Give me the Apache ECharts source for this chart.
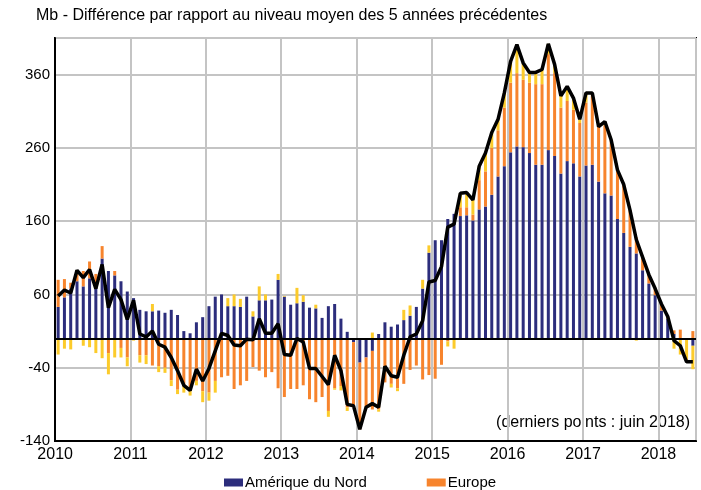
<!DOCTYPE html>
<html>
<head>
<meta charset="UTF-8">
<title>Stocks - ecart a la moyenne 5 ans</title>
<script src="https://cdn.jsdelivr.net/npm/echarts@6/dist/echarts.min.js"></script>
</head>
<body style="margin:0;background:#fff">
<div id="chart" style="width:701px;height:490px;"></div>
<script>
// monthly data, jan 2010 -> juin 2018 (Mb)
var years = ['2010', '2011', '2012', '2013', '2014', '2015', '2016', '2017', '2018'];

var ameriqueNord = [
  43, 56, 68, 78, 71, 82, 75, 109, 92, 86, 78, 64,
  55, 39, 37, 37, 38, 35, 39, 32, 10, 7, 22, 29,
  44, 57, 60, 44, 44, 43, 57, 30, 52, 52, 53, 80,
  57, 46, 48, 50, 42, 41, 28, 44, 47, 27, 9, -5,
  -33, -26, -17, 6, 22, 16, 19, 25, 31, 43, 68, 117,
  134, 134, 163, 170, 167, 168, 161, 176, 180, 196, 221, 235,
  254, 262, 261, 253, 237, 237, 257, 249, 225, 242, 239, 221,
  236, 237, 214, 198, 195, 163, 144, 125, 116, 93, 75, 59,
  38, 27, 6, -1, 0, -10
];
var europe = [
  37, 25, 8, 15, 21, 23, 13, 17, -20, 6, -13, -26,
  0, -23, -23, -37, -38, -40, -57, -70, -66, -72, -58, -72,
  -74, -58, -53, -51, -69, -64, -58, -39, -44, -53, -46, -68,
  -80, -69, -69, -64, -83, -87, -80, -99, -68, -65, -94, -87,
  -91, -68, -80, -97, -60, -62, -68, -62, -43, -37, -56, -50,
  -55, -36, -4, 0, 12, 11, 8, 40, 48, 64, 63, 80,
  95, 100, 92, 96, 110, 110, 131, 113, 90, 82, 73, 73,
  86, 98, 75, 93, 76, 67, 66, 50, 22, 18, 12, 9,
  9, 3, 5, 12, 0, 10
];
var autres = [
  -22, -14, -15, 0, -10, -12, -20, -27, -29, -26, -13, -12,
  -3, -10, -12, 10, -8, -7, -8, -6, -8, -6, -6, -15,
  -11, -16, 0, 11, 16, 11, 0, 7, 19, 8, 0, 8,
  1, 0, 21, 9, 0, 5, 0, -8, -2, -6, -5, 0,
  0, 0, 8, -3, 0, -5, -4, 14, 14, 0, 12, 10,
  0, 0, -7, -14, 19, 20, 20, 19, 25, 21, 15, 20,
  29, 39, 23, 14, 16, 20, 14, 12, 16, 20, 16, 5,
  13, 0, 0, 5, 0, 0, 0, 0, -3, 0, 0, 0,
  0, 0, -14, -21, -32, -32
];
var total = [
  58, 66, 62, 93, 83, 94, 68, 101, 42, 67, 53, 26,
  52, 6, 2, 10, -8, -12, -26, -44, -64, -71, -42, -58,
  -41, -17, 7, 4, -9, -10, -1, -2, 27, 7, 7, 20,
  -22, -23, 0, -5, -41, -41, -52, -63, -23, -44, -90, -92,
  -124, -94, -89, -94, -38, -51, -53, -23, 2, 6, 24, 77,
  79, 98, 152, 156, 198, 199, 189, 235, 253, 281, 299, 335,
  378, 401, 376, 363, 363, 367, 402, 374, 331, 344, 328, 299,
  335, 335, 289, 296, 271, 230, 210, 175, 135, 111, 87, 68,
  47, 30, -3, -10, -32, -32
];

var months = [];
years.forEach(function (y) {
  for (var m = 1; m <= 12; m++) {
    if (months.length < total.length) months.push(y + '-' + (m < 10 ? '0' + m : m));
  }
});

var font = 'Liberation Sans';
var chart = echarts.init(document.getElementById('chart'));

var option = {
  animation: false,
  textStyle: { fontFamily: font },
  title: {
    text: 'Mb - Différence par rapport au niveau moyen des 5 années précédentes',
    left: 31, top: 3,
    textStyle: { fontSize: 16, fontWeight: 'normal', color: '#000', fontFamily: font }
  },
  graphic: [{
    type: 'text', right: 11, top: 415,
    style: { text: '(derniers points : juin 2018)', font: '16px ' + font, fill: '#000' }
  }],
  legend: {
    data: ['Amérique du Nord', 'Europe'],
    left: 219, top: 470,
    itemWidth: 19, itemHeight: 8, itemGap: 60,
    icon: 'rect',
    textStyle: { fontSize: 15, color: '#000', fontFamily: font, padding: [0, 0, 0, -3] }
  },
  grid: {
    left: 55, right: 5, top: 38, bottom: 49,
    show: true, borderColor: '#000', borderWidth: 2
  },
  xAxis: {
    type: 'category',
    data: months,
    boundaryGap: true,
    axisLine: { onZero: false, lineStyle: { color: '#000', width: 2 } },
    axisTick: { show: false },
    axisLabel: {
      interval: function (i) { return i % 12 === 0; },
      formatter: function (v) { return v.slice(0, 4); },
      color: '#000', fontSize: 16, margin: 6,
      padding: [0, 6, 0, 0]
    },
    splitLine: {
      show: true,
      interval: function (i) { return i % 12 === 0; },
      lineStyle: { color: '#c4c4c4', width: 2 }
    }
  },
  yAxis: {
    type: 'value',
    min: -140, max: 410, interval: 100,
    axisLine: { show: true, lineStyle: { color: '#000', width: 2 } },
    axisTick: { show: false },
    axisLabel: { color: '#000', fontSize: 15, margin: 5, showMaxLabel: false },
    splitLine: { lineStyle: { color: '#c4c4c4', width: 2 } }
  },
  series: [
    {
      name: 'Amérique du Nord', type: 'bar', stack: 'r',
      data: ameriqueNord, barWidth: 3,
      itemStyle: { color: '#2c2d7c' }
    },
    {
      name: 'Europe', type: 'bar', stack: 'r',
      data: europe, barWidth: 3,
      itemStyle: { color: '#f7842d' }
    },
    {
      name: 'Autres', type: 'bar', stack: 'r',
      data: autres, barWidth: 3,
      itemStyle: { color: '#fccb2b' }
    },
    {
      name: 'Total', type: 'line',
      data: total,
      symbol: 'none',
      lineStyle: { color: '#000', width: 3.5 },
      z: 5,
      markLine: {
        silent: true, symbol: 'none',
        label: { show: false },
        lineStyle: { color: '#000', width: 2, type: 'solid' },
        data: [{ yAxis: 0 }]
      }
    }
  ]
};

chart.setOption(option);
</script>
</body>
</html>
